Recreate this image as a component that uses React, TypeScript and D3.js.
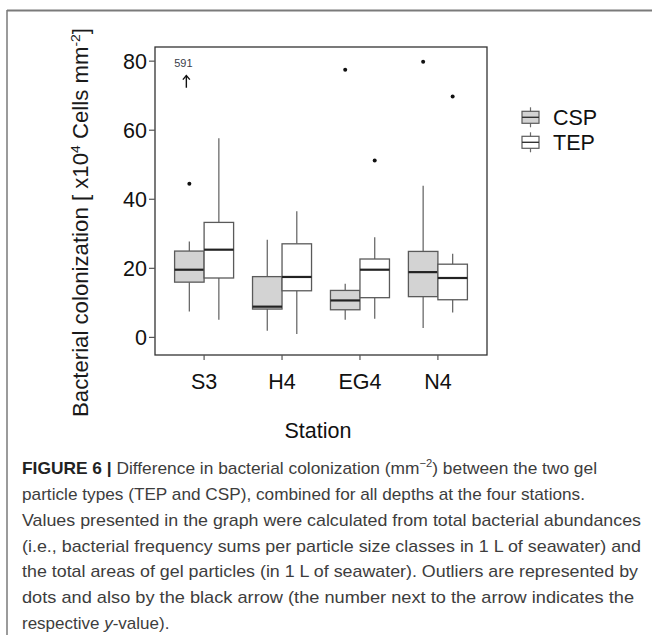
import React from 'react';
import * as d3 from 'd3';

// stations on the x axis and the two gel particle types
const stations = ['S3', 'H4', 'EG4', 'N4'];
const particleTypes = ['CSP', 'TEP'];

// box stats per station: [lower whisker, Q1, median, Q3, upper whisker]
const cspBoxes = [
  [7.5, 16.0, 19.6, 25.0, 27.8],
  [1.9, 8.2, 8.9, 17.6, 28.3],
  [5.1, 8.0, 10.7, 13.6, 15.5],
  [2.7, 11.8, 18.9, 24.9, 43.9],
];
const tepBoxes = [
  [5.1, 17.2, 25.4, 33.3, 57.7],
  [1.0, 13.5, 17.5, 27.1, 36.5],
  [5.4, 11.5, 19.6, 22.7, 29.0],
  [7.2, 10.9, 17.2, 21.2, 24.2],
];
const cspOutliers = [[44.5], [], [77.5], [79.8]];
const tepOutliers = [[], [], [51.2], [69.8]];

// off-scale outlier shown as arrow + value
const offScaleStation = 'S3';
const offScaleValue = 591;

const yTicks = [0, 20, 40, 60, 80];

const captionLines = [
  'particle types (TEP and CSP), combined for all depths at the four stations.',
  'Values presented in the graph were calculated from total bacterial abundances',
  '(i.e., bacterial frequency sums per particle size classes in 1 L of seawater) and',
  'the total areas of gel particles (in 1 L of seawater). Outliers are represented by',
  'dots and also by the black arrow (the number next to the arrow indicates the',
];
const captionEnds = [585, 641, 641, 638, 634];

const W = 652;
const H = 635;
const plot = { left: 155, right: 487, top: 47, bottom: 355 };
const font = '"Liberation Sans", Arial, sans-serif';

const App: React.FC = () => {
  const y = d3.scaleLinear().domain([-5.1, 84.1]).range([plot.bottom, plot.top]);
  const x = d3.scalePoint<string>().domain(stations).range([plot.left, plot.right]).padding(0.63);
  const inner = d3.scaleBand<string>().domain(particleTypes).range([-29.5, 29.5]);
  const fills: Record<string, string> = { CSP: '#d3d3d3', TEP: '#ffffff' };
  const boxData: Record<string, number[][]> = { CSP: cspBoxes, TEP: tepBoxes };
  const outData: Record<string, number[][]> = { CSP: cspOutliers, TEP: tepOutliers };

  const arrowX = (x(offScaleStation) as number) + (inner('CSP') as number) + inner.bandwidth() / 2 - 3;

  return (
    <div style={{ position: 'absolute', left: 0, top: 0 }}>
      <svg width={W} height={H} style={{ display: 'block', background: '#fff' }}>
        {/* figure frame */}
        <line x1={7} y1={10.5} x2={W} y2={10.5} stroke="#7a7a7a" strokeWidth={2} />
        <line x1={7} y1={10} x2={7} y2={H} stroke="#7a7a7a" strokeWidth={1.5} />

        {/* boxes */}
        {stations.map((s, i) =>
          particleTypes.map((g) => {
            const [lo, q1, med, q3, hi] = boxData[g][i];
            const x0 = (x(s) as number) + (inner(g) as number);
            const bw = inner.bandwidth();
            const cx = x0 + bw / 2;
            return (
              <g key={s + g}>
                <line x1={cx} x2={cx} y1={y(hi)} y2={y(q3)} stroke="#6b6b6b" strokeWidth={1.3} />
                <line x1={cx} x2={cx} y1={y(q1)} y2={y(lo)} stroke="#6b6b6b" strokeWidth={1.3} />
                <rect x={x0} y={y(q3)} width={bw} height={y(q1) - y(q3)} fill={fills[g]} stroke="#5a5a5a" strokeWidth={1.3} />
                <line x1={x0} x2={x0 + bw} y1={y(med)} y2={y(med)} stroke="#222" strokeWidth={2.2} />
                {outData[g][i].map((v, k) => (
                  <circle key={k} cx={cx} cy={y(v)} r={2} fill="#111" />
                ))}
              </g>
            );
          })
        )}

        {/* off-scale outlier */}
        <text x={arrowX - 3} y={y(78.3)} fontFamily={font} fontSize={11} fill="#3a3d4a" textAnchor="middle">
          {offScaleValue}
        </text>
        <line x1={arrowX} x2={arrowX} y1={y(72.3)} y2={y(75.8)} stroke="#111" strokeWidth={1.4} />
        <path
          d={`M${arrowX - 3.5},${y(75.8) + 4}L${arrowX},${y(75.8)}L${arrowX + 3.5},${y(75.8) + 4}`}
          fill="none"
          stroke="#111"
          strokeWidth={1.4}
        />

        {/* panel border */}
        <rect
          x={plot.left}
          y={plot.top}
          width={plot.right - plot.left}
          height={plot.bottom - plot.top}
          fill="none"
          stroke="#333"
          strokeWidth={1.3}
        />

        {/* y axis */}
        {yTicks.map((t) => (
          <g key={t}>
            <line x1={plot.left - 6} x2={plot.left} y1={y(t)} y2={y(t)} stroke="#555" strokeWidth={1.2} />
            <text x={plot.left - 8} y={y(t) + 7.5} textAnchor="end" fontFamily={font} fontSize={21.5} fill="#111">
              {t}
            </text>
          </g>
        ))}

        {/* x axis */}
        {stations.map((s) => (
          <g key={s}>
            <line x1={x(s)} x2={x(s)} y1={plot.bottom} y2={plot.bottom + 5} stroke="#555" strokeWidth={1.2} />
            <text x={x(s)} y={plot.bottom + 34} textAnchor="middle" fontFamily={font} fontSize={21.5} fill="#111">
              {s}
            </text>
          </g>
        ))}

        <text x={318} y={438} textAnchor="middle" fontFamily={font} fontSize={21.5} fill="#111">
          Station
        </text>

        <text
          transform="translate(87.5,222.5) rotate(-90)"
          textAnchor="middle"
          fontFamily={font}
          fontSize={21.5}
          fill="#1a1a1a"
          textLength={389}
          lengthAdjust="spacingAndGlyphs"
        >
          Bacterial colonization [ x10<tspan fontSize={13.5} dy={-8}>4</tspan>
          <tspan dy={8}> Cells mm</tspan>
          <tspan fontSize={13.5} dy={-8}>-2</tspan>
          <tspan dy={8}>]</tspan>
        </text>

        {/* legend */}
        {particleTypes.map((g, i) => {
          const cy = 117.3 + i * 25;
          return (
            <g key={g}>
              <line x1={530.5} x2={530.5} y1={cy - 10} y2={cy + 10} stroke="#6b6b6b" strokeWidth={1.2} />
              <rect x={522} y={cy - 6} width={17} height={12} fill={fills[g]} stroke="#5a5a5a" strokeWidth={1.2} />
              <line x1={522} x2={539} y1={cy} y2={cy} stroke="#333" strokeWidth={1.4} />
              <text x={553} y={cy + 7.5} fontFamily={font} fontSize={21.5} fill="#111">
                {g}
              </text>
            </g>
          );
        })}

        {/* caption */}
        <text x={22} y={474} fontFamily={font} fontSize={17} fill="#3d3d3d" textLength={575} lengthAdjust="spacingAndGlyphs">
          <tspan fontWeight="bold" fill="#222">FIGURE 6 |</tspan> Difference in bacterial colonization (mm
          <tspan fontSize={11} dy={-7}>−2</tspan>
          <tspan dy={7}>) between the two gel</tspan>
        </text>
        {captionLines.map((l, i) => (
          <text
            key={i}
            x={22}
            y={500 + i * 25.8}
            fontFamily={font}
            fontSize={17}
            fill="#3d3d3d"
            textLength={captionEnds[i] - 22}
            lengthAdjust="spacingAndGlyphs"
          >
            {l}
          </text>
        ))}
        <text x={22} y={629} fontFamily={font} fontSize={17} fill="#3d3d3d">
          respective <tspan fontStyle="italic">y</tspan>-value).
        </text>
      </svg>
    </div>
  );
};

export default App;
